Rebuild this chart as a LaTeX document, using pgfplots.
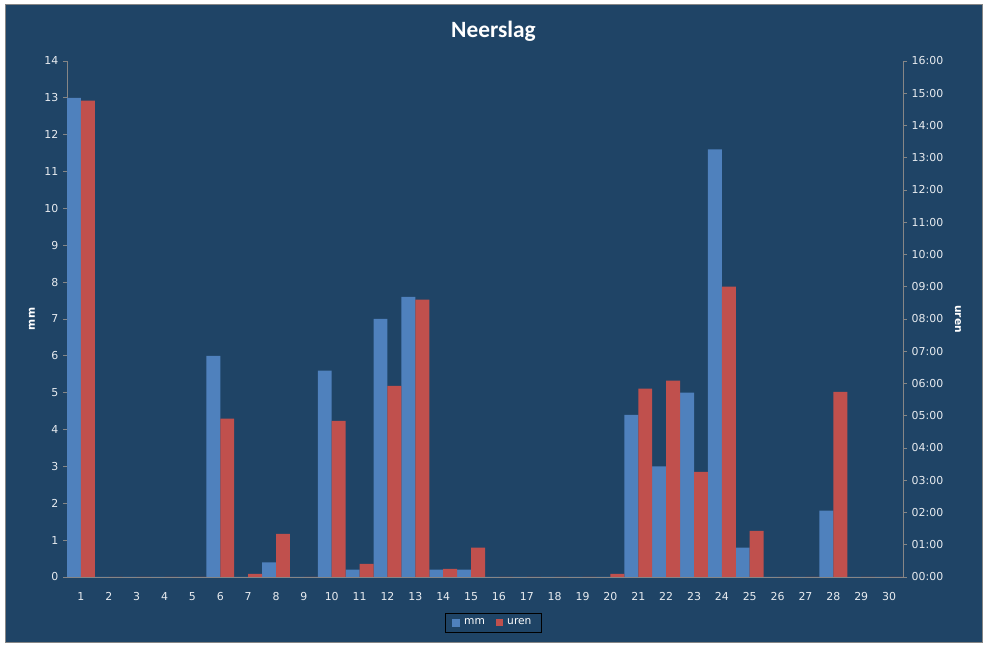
\documentclass[border=0pt]{standalone}
\usepackage{pgfplots}
\pgfplotsset{compat=1.18}
\usepackage{pgfplotstable}
\usepackage{fontspec}
\setmainfont{DejaVu Sans}
\newfontfamily\calibri{Carlito}
\newfontfamily\tahoma{DejaVu Sans}

\definecolor{bgblue}{RGB}{31,68,102}
\definecolor{mmblue}{RGB}{79,129,189}
\definecolor{urenred}{RGB}{192,80,77}
\definecolor{axisgray}{RGB}{134,134,134}
\definecolor{ticktext}{RGB}{232,236,240}

% dag, mm neerslag, uren (duur in uren)
\pgfplotstableread{
dag mm uren
1  13.0 14.77
2  0    0
3  0    0
4  0    0
5  0    0
6  6.0  4.91
7  0    0.10
8  0.4  1.34
9  0    0
10 5.6  4.84
11 0.2  0.41
12 7.0  5.93
13 7.6  8.60
14 0.2  0.25
15 0.2  0.91
16 0    0
17 0    0
18 0    0
19 0    0
20 0    0.10
21 4.4  5.84
22 3.0  6.09
23 5.0  3.26
24 11.6 9.00
25 0.8  1.43
26 0    0
27 0    0
28 1.8  5.74
29 0    0
30 0    0
}\neerslag

\pgfplotsset{
  neerslag/.style={
    scale only axis,
    width=627pt, height=387pt,
    at={(50.25pt,53.25pt)}, anchor=south west,
    xmin=0.5, xmax=30.5,
    ybar, bar width=10.45pt,
    axis line style={axisgray},
    tick style={axisgray, line width=0.6pt},
    tick align=outside,
    major tick length=3pt,
    tick label style={font=\tahoma\fontsize{8.2}{9}\selectfont, text=ticktext},
    /pgf/number format/assume math mode=true,
  },
}

\begin{document}
\begin{tikzpicture}
  \fill[white] (0,0) rectangle (740.25pt,486pt);
  \filldraw[fill=bgblue, draw=axisgray, line width=0.75pt]
    (3.75pt,3.75pt) rectangle (736.5pt,482.25pt);

  \begin{axis}[
    neerslag,
    axis x line*=bottom,
    axis y line*=left,
    ymin=0, ymax=14,
    ytick={0,1,...,14},
    xtick={1,...,30},
    minor xtick={0.5,1.5,...,30.5},
    xtick style={draw=none},
    minor tick style={axisgray, line width=0.6pt},
    minor tick length=3.5pt,
    xticklabel style={yshift=-5pt},
    ylabel={mm},
    every axis y label/.style={at={(axis description cs:-0.0419,0.5)},
      rotate=90, anchor=center,
      font=\tahoma\bfseries\fontsize{8}{9}\selectfont, text=white},
    ]
    \addplot[fill=mmblue, draw=none, bar shift=-5.225pt]
      table[x=dag, y=mm] {\neerslag};
  \end{axis}

  \begin{axis}[
    neerslag,
    axis y line*=right,
    hide x axis,
    ymin=0, ymax=16,
    ytick={0,1,...,16},
    yticklabels={00:00,01:00,02:00,03:00,04:00,05:00,06:00,07:00,08:00,
      09:00,10:00,11:00,12:00,13:00,14:00,15:00,16:00},
    ylabel={uren},
    every axis y label/.style={at={(axis description cs:1.0658,0.5)},
      rotate=-90, anchor=center,
      font=\tahoma\bfseries\fontsize{8}{9}\selectfont, text=white},
    legend style={at={(axis description cs:0.5096,-0.0882)}, anchor=center,
      draw=black, fill=none, text=white,
      font=\tahoma\fontsize{8}{9}\selectfont,
      legend columns=2, inner xsep=5pt, inner ysep=2pt,
      /tikz/every even column/.append style={column sep=6pt}},
    ]
    \addlegendimage{legend image code/.code={
      \fill[mmblue] (0pt,-2.6pt) rectangle (5.25pt,2.6pt);}}
    \addlegendentry{\hspace{1.5pt}mm}
    \addplot[fill=urenred, draw=none, bar shift=5.225pt,
      legend image code/.code={
        \fill[urenred] (0pt,-2.6pt) rectangle (5.25pt,2.6pt);}]
      table[x=dag, y=uren] {\neerslag};
    \addlegendentry{\hspace{1.5pt}uren}
  \end{axis}

  \node[font=\calibri\bfseries\fontsize{17.5}{20}\selectfont, text=white]
    at (370.1pt,462.75pt) {Neerslag};

  \pgfresetboundingbox
  \path (0,0) rectangle (740.25pt,486pt);
\end{tikzpicture}
\end{document}
